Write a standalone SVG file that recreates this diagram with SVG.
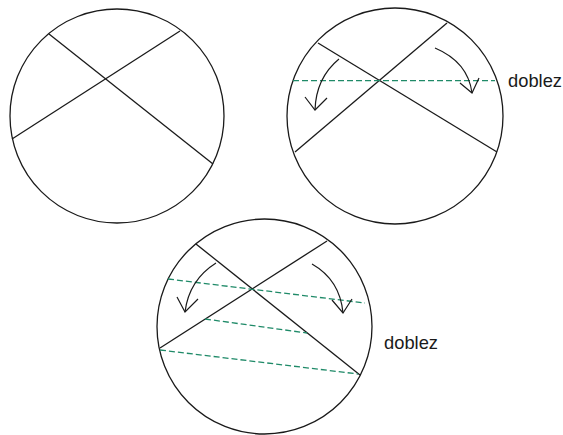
<svg xmlns="http://www.w3.org/2000/svg" width="563" height="435" viewBox="0 0 563 435">
<style>
.c{fill:none;stroke:#1a1a1a;stroke-width:1.3}
.l{stroke:#1a1a1a;stroke-width:1.3;fill:none}
.d{stroke:#1f8a68;stroke-width:1.3;stroke-dasharray:6 3;fill:none}
.a{stroke:#1a1a1a;stroke-width:1.2;fill:none;stroke-linejoin:miter}
.t{font-family:"Liberation Sans",Arial,sans-serif;font-size:19px;fill:#1a1a1a}
</style>
<rect width="563" height="435" fill="#fff"/>
<g id="circle1">
<circle class="c" cx="117" cy="116" r="107"/>
<line class="l" x1="49" y1="34" x2="213" y2="164"/>
<line class="l" x1="180" y1="31" x2="12" y2="139"/>
</g>
<g id="circle2">
<circle class="c" cx="395" cy="116" r="108"/>
<line class="l" x1="318" y1="43" x2="497" y2="152"/>
<line class="l" x1="447" y1="23" x2="295" y2="152"/>
</g>
<g id="circle3">
<circle class="c" cx="264.5" cy="326.5" r="107.5"/>
<line class="l" x1="196" y1="244" x2="360" y2="375"/>
<line class="l" x1="327" y1="241" x2="160" y2="348"/>
</g>
<g id="connectors">
<line class="d" x1="293" y1="80.7" x2="495" y2="80.7"/>
<path class="a" d="M339,59 Q316,78 315,110"/>
<polyline class="a" points="305,97 315,110 327,98"/>
<path class="a" d="M435,48 Q468,62 472,93"/>
<polyline class="a" points="460,83 472,93 479,78"/>
<line class="d" x1="168" y1="279" x2="365" y2="303"/>
<line class="d" x1="205" y1="319" x2="307" y2="333"/>
<line class="d" x1="160" y1="350" x2="358" y2="374"/>
<path class="a" d="M216,263 Q189,280 185,312"/>
<polyline class="a" points="177,297 185,312 198,299"/>
<path class="a" d="M312,264 Q340,280 343,313"/>
<polyline class="a" points="332,300 343,313 352,299"/>
</g>
<g id="labels">
<text class="t" x="508" y="87" textLength="54" lengthAdjust="spacingAndGlyphs">doblez</text>
<text class="t" x="384" y="349" textLength="54" lengthAdjust="spacingAndGlyphs">doblez</text>
</g>
</svg>
